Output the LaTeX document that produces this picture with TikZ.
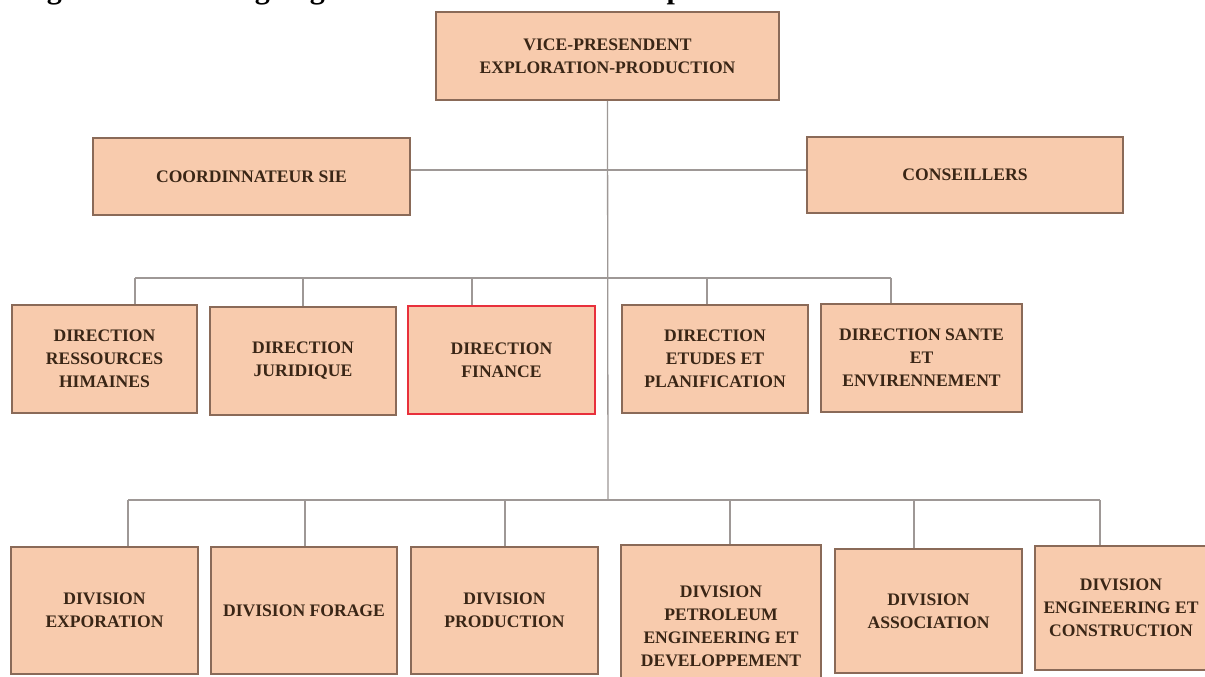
\documentclass[tikz,border=0pt]{standalone}
\usepackage{fontspec}
\setmainfont{Liberation Serif}
\definecolor{peach}{HTML}{F8CBAD}
\definecolor{edgec}{HTML}{8A6A58}
\definecolor{wirec}{HTML}{9E9896}
\definecolor{ink}{HTML}{3A2616}
\definecolor{redb}{HTML}{E8303C}
\begin{document}
\begin{tikzpicture}[x=1pt,y=-1pt,
  box/.style={draw=edgec, line width=1.6pt, fill=peach, inner sep=0pt, align=center,
    font=\bfseries\fontsize{17.6}{23}\selectfont, text=ink},
  wire/.style={draw=wirec, line width=1.3pt}]
\useasboundingbox (0,0) rectangle (1205,677);
\fill[white] (0,0) rectangle (1205,677);
% title (cut off at top)
\node[anchor=base west, inner sep=0pt, font=\bfseries\fontsize{30}{30}\selectfont] (title) at (20,-1) {Figure N° 1.1 : Organigramme de la Division d’Exploration};
% top
\node[box, minimum width=343, minimum height=88] (vp) at (607.5,56) {VICE-PRESENDENT\\EXPLORATION-PRODUCTION};
\node[box, minimum width=317, minimum height=77] (coord) at (251.5,176.5) {COORDINNATEUR SIE};
\node[box, minimum width=316, minimum height=76] (cons) at (965,175) {CONSEILLERS};
% directions
\node[box, minimum width=185, minimum height=108] (drh) at (104.5,359) {DIRECTION\\RESSOURCES\\HIMAINES};
\node[box, minimum width=186, minimum height=108] (djur) at (303,361) {DIRECTION\\JURIDIQUE};
\node[box, draw=redb, line width=2.2pt, minimum width=187, minimum height=108] (dfin) at (501.5,360) {DIRECTION\\FINANCE};
\node[box, minimum width=186, minimum height=108] (detu) at (715,359) {DIRECTION\\ETUDES ET\\PLANIFICATION};
\node[box, minimum width=201, minimum height=108] (dsan) at (921.5,358) {DIRECTION SANTE\\ET\\ENVIRENNEMENT};
% divisions
\node[box, minimum width=187, minimum height=127] (dexp) at (104.5,610.5) {DIVISION\\EXPORATION};
\node[box, minimum width=186, minimum height=127] (dfor) at (304,610.5) {DIVISION FORAGE};
\node[box, minimum width=187, minimum height=127] (dpro) at (504.5,610.5) {DIVISION\\PRODUCTION};
\node[box, minimum width=200, minimum height=162] (dpet) at (721,626) {DIVISION\\PETROLEUM\\ENGINEERING ET\\DEVELOPPEMENT};
\node[box, minimum width=187, minimum height=124] (dass) at (928.5,611) {DIVISION\\ASSOCIATION};
\node[box, minimum width=172, minimum height=124] (deng) at (1121,608) {DIVISION\\ENGINEERING ET\\CONSTRUCTION};
% junction coordinates
\coordinate (sj) at (608,170);
\coordinate (j1) at (608,278);
\coordinate (j2) at (608,500);
\coordinate (a1) at (135,278);
\coordinate (a2) at (303,278);
\coordinate (a3) at (472,278);
\coordinate (a4) at (707,278);
\coordinate (a5) at (891,278);
\coordinate (b1) at (128,500);
\coordinate (b2) at (305,500);
\coordinate (b3) at (505,500);
\coordinate (b4) at (730,500);
\coordinate (b5) at (914,500);
\coordinate (b6) at (1100,500);
% connectors
\draw[wire] (vp.south) -- (j2);
\draw[wire] (coord.east |- sj) -- (cons.west |- sj);
\draw[wire] (a1) -- (a5);
\draw[wire] (a1) -- (a1 |- drh.north);
\draw[wire] (a2) -- (a2 |- djur.north);
\draw[wire] (a3) -- (a3 |- dfin.north);
\draw[wire] (a4) -- (a4 |- detu.north);
\draw[wire] (a5) -- (a5 |- dsan.north);
\draw[wire] (b1) -- (b6);
\draw[wire] (b1) -- (b1 |- dexp.north);
\draw[wire] (b2) -- (b2 |- dfor.north);
\draw[wire] (b3) -- (b3 |- dpro.north);
\draw[wire] (b4) -- (b4 |- dpet.north);
\draw[wire] (b5) -- (b5 |- dass.north);
\draw[wire] (b6) -- (b6 |- deng.north);
\end{tikzpicture}
\end{document}
